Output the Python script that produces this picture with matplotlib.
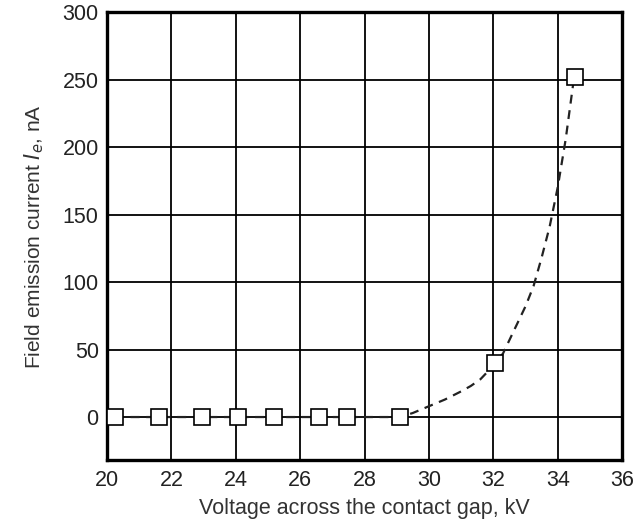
import matplotlib.pyplot as plt

plt.rcParams['font.family'] = ['Liberation Sans', 'DejaVu Sans']

# measured points (kV, nA)
voltage = [20.25, 21.6, 22.95, 24.08, 25.2, 26.6, 27.45, 29.1, 32.05, 34.55]
current = [0, 0, 0, 0, 0, 0, 0, 0, 40, 252]

# dashed trend curve
curve_v = [20.25, 22.0, 24.0, 26.0, 28.0, 29.1, 29.5, 30.0, 30.5, 31.0, 31.3,
           31.6, 31.8, 32.05, 32.3, 32.6, 33.0, 33.25, 33.5, 33.75, 34.0,
           34.25, 34.5]
curve_i = [0, 0, 0, 0, 0, 0, 3, 8, 13, 19, 23,
           28, 33, 40, 47, 62, 82, 97, 118, 141, 170,
           206, 250]

xticks = [20, 22, 24, 26, 28, 30, 32, 34, 36]
yticks = [0, 50, 100, 150, 200, 250, 300]

fig = plt.figure(figsize=(6.39, 5.23), dpi=100)
ax = fig.add_axes([0.1675, 0.12, 0.806, 0.857])

ax.plot(curve_v, curve_i, color='#222222', lw=1.6, ls=(0, (4, 3)), zorder=2)
ax.plot(voltage, current, ls='none', marker='s', ms=11.5, mfc='white',
        mec='black', mew=1.2, zorder=3)

ax.set_xlim(20, 36)
ax.set_ylim(-32, 300)
ax.set_xticks(xticks)
ax.set_yticks(yticks)
ax.grid(True, color='black', lw=1.3)
ax.set_axisbelow(True)
ax.tick_params(length=0, labelsize=15.5, labelcolor='#222222')
ax.tick_params(axis='x', pad=7)
ax.tick_params(axis='y', pad=6)
for s in ax.spines.values():
    s.set_linewidth(2.4)

ax.set_xlabel('Voltage across the contact gap, kV', fontsize=15.5,
              color='#333333', labelpad=5)
ax.set_ylabel('Field emission current $I_e$, nA', fontsize=15,
              color='#333333', labelpad=12)

fig.savefig('out.png', dpi=100)
